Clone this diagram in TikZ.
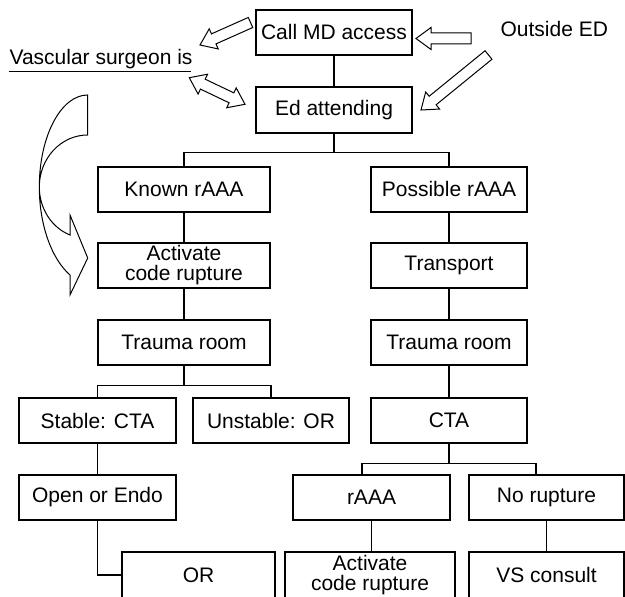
\documentclass[tikz,border=0pt]{standalone}
\usepackage{fontspec}
\setmainfont{Liberation Sans}
\usetikzlibrary{calc}
\newcommand\blockarrow[2]{%
  \coordinate (bac) at ($(#2)!7.5pt!(#1)$);
  \draw[blk] ($(#1)!2.75pt!90:(#2)$) -- ($(bac)!2.75pt!90:(#2)$) -- ($(bac)!5.5pt!90:(#2)$) -- (#2)
    -- ($(bac)!5.5pt!-90:(#2)$) -- ($(bac)!2.75pt!-90:(#2)$) -- ($(#1)!2.75pt!-90:(#2)$) -- cycle;
}
\newcommand\dblarrow[2]{%
  \coordinate (dac) at ($(#1)!7.5pt!(#2)$);
  \coordinate (dbc) at ($(#2)!7.5pt!(#1)$);
  \draw[blk] (#1) -- ($(dac)!5.5pt!90:(#2)$) -- ($(dac)!2.75pt!90:(#2)$) -- ($(dbc)!2.75pt!-90:(#1)$)
    -- ($(dbc)!5.5pt!-90:(#1)$) -- (#2) -- ($(dbc)!5.5pt!90:(#1)$) -- ($(dbc)!2.75pt!90:(#1)$)
    -- ($(dac)!2.75pt!-90:(#2)$) -- ($(dac)!5.5pt!-90:(#2)$) -- cycle;
}
\begin{document}
\begin{tikzpicture}[x=0.5pt,y=-0.5pt, line width=0.6pt,
  box/.style={draw, inner sep=0pt, align=center, font=\fontsize{10.5}{10}\selectfont, minimum height=22.5pt},
  lbl/.style={inner sep=0pt, font=\fontsize{10.5}{10}\selectfont},
  blk/.style={draw, line width=0.5pt, fill=white, line join=miter}]
\useasboundingbox (0,0) rectangle (625,597);
\clip (0,0) rectangle (625,597);

% boxes
\node[box, minimum width=78pt] (call) at (334,32.5) {Call MD access};
\node[box, minimum width=78pt, minimum height=23pt] (ed) at (334,110) {Ed attending};
\node[box, minimum width=86pt] (known) at (184,189.5) {Known rAAA};
\node[box, minimum width=78pt] (poss) at (449,189.5) {Possible rAAA};
\node[box, minimum width=86pt] (act1) at (184,265.5) {Activate\\code rupture};
\node[box, minimum width=78pt] (trans) at (449,265.5) {Transport};
\node[box, minimum width=86pt] (tr1) at (184,342.5) {Trauma room};
\node[box, minimum width=78pt] (tr2) at (449,342.5) {Trauma room};
\node[box, minimum width=78.5pt] (stab) at (97.5,420.5) {Stable: CTA};
\node[box, minimum width=78pt] (unst) at (271,420.5) {Unstable: OR};
\node[box, minimum width=78pt] (cta) at (449,420.5) {CTA};
\node[box, minimum width=78.5pt] (open) at (97.5,497.5) {Open or Endo};
\node[box, minimum width=78.5pt] (raaa) at (371.5,497.5) {rAAA};
\node[box, minimum width=77.5pt] (norup) at (546.5,497.5) {No rupture};
\node[box, minimum width=76.5pt, minimum height=23pt] (or) at (198.5,575) {OR};
\node[box, minimum width=85pt, minimum height=23pt] (act2) at (370,575) {Activate\\code rupture};
\node[box, minimum width=77.5pt, minimum height=23pt] (vs) at (546.5,575) {VS consult};

% texts
\node[lbl, anchor=base west] (vasc) at (9,65) {Vascular surgeon is};
\draw[line width=0.5pt] ([yshift=-3.5pt]vasc.base west) -- ++(182,0);
\node[lbl, anchor=base west] (out) at (500,37) {Outside ED};

% tree connectors
\draw (call.south) -- (ed.north);
\draw (ed.south) -- ++(0,19) coordinate (j1);
\draw (known.north) |- (j1) -| (poss.north);
\draw (known.south) -- (act1.north);
\draw (act1.south) -- (tr1.north);
\draw (poss.south) -- (trans.north);
\draw (trans.south) -- (tr2.north);
\draw (tr2.south) -- (cta.north);
\draw (tr1.south) -- ++(0,20) coordinate (j2);
\draw (stab.north) |- (j2) -| (unst.north);
\draw (stab.south) -- (open.north);
\draw (open.south) |- (or.west);
\draw (cta.south) -- ++(0,20) coordinate (j3);
\draw ([xshift=-4.75pt]raaa.north) |- (j3) -| ([xshift=-5.25pt]norup.north);
\draw (raaa.south) -- (raaa.south |- act2.north);
\draw (norup.south) -- (vs.north);

% block arrows
\coordinate (a1t) at (250.5,22.5); \coordinate (a1h) at (200,45);
\coordinate (a2t) at (471,38.5);   \coordinate (a2h) at (416,38.5);
\coordinate (a3t) at (488.5,55);   \coordinate (a3h) at (421,110);
\coordinate (a4a) at (189.3,77.7); \coordinate (a4b) at (245,104.3);
\blockarrow{a1t}{a1h}
\blockarrow{a2t}{a2h}
\blockarrow{a3t}{a3h}
\dblarrow{a4a}{a4b}

% curved arrow
\draw[blk, fill=none] (87.7,95) -- (87.7,135)
  .. controls (60.97,135) and (39.3,158.3) .. (39.3,187)
  .. controls (39.3,208.3) and (51.5,227.6) .. (70,235)
  -- (70,215) -- (87.7,258) -- (70,295) -- (70,275)
  .. controls (51.5,258.8) and (39.3,224.7) .. (39.3,187)
  .. controls (39.3,136.2) and (60.97,95) .. (87.7,95) -- cycle;
\end{tikzpicture}
\end{document}
